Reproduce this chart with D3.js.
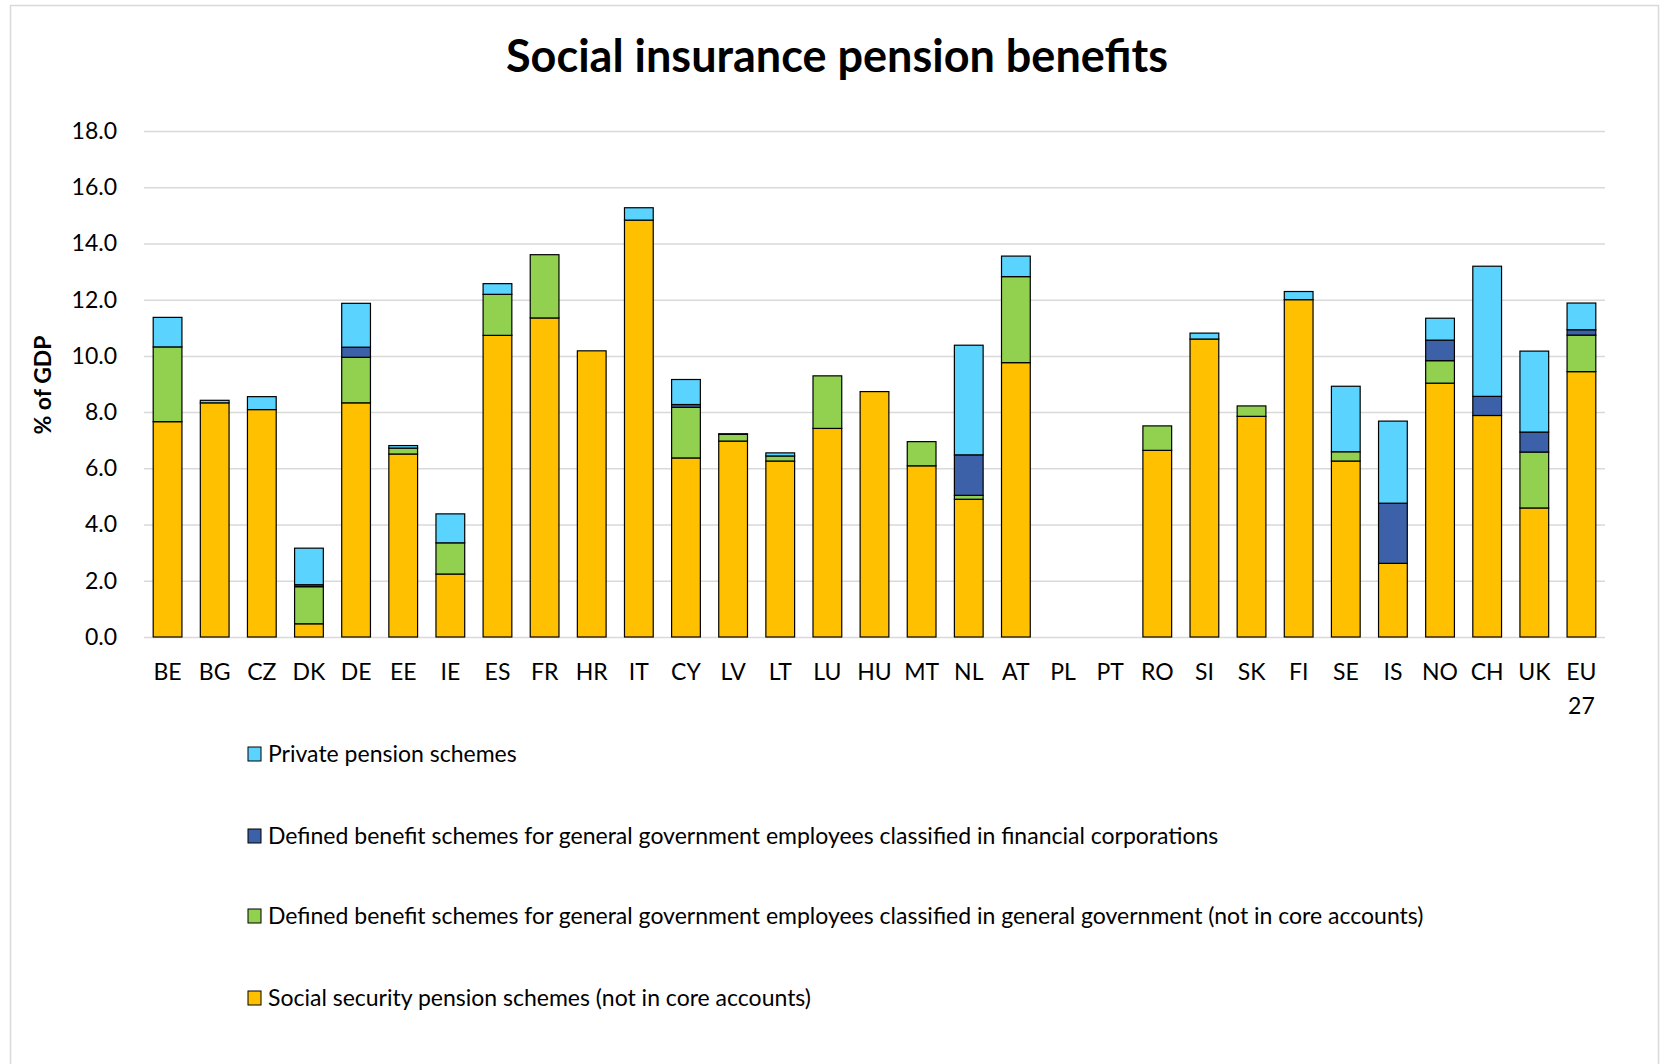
<!DOCTYPE html>
<html>
<head>
<meta charset="utf-8">
<script src="https://cdnjs.cloudflare.com/ajax/libs/d3/7.8.5/d3.min.js"></script>
<style>
  body { margin: 0; background: #fff; }
  svg { display: block; font-family: Lato, "Open Sans", sans-serif; }
</style>
</head>
<body>
<div id="chart"></div>
<script>
// categories (EU 27 is wrapped on two lines like the original)
var countries = ["BE","BG","CZ","DK","DE","EE","IE","ES","FR","HR","IT","CY","LV","LT","LU","HU","MT","NL","AT","PL","PT","RO","SI","SK","FI","SE","IS","NO","CH","UK","EU 27"];

// series values, % of GDP
var socialSecurity = [7.66,8.33,8.09,0.47,8.33,6.51,2.24,10.73,11.35,10.18,14.83,6.37,6.97,6.26,7.42,8.73,6.09,4.90,9.76,0,0,6.64,10.60,7.85,12.00,6.26,2.62,9.03,7.88,4.59,9.44];
var dbGeneralGov  = [2.66,0,0,1.32,1.62,0.21,1.11,1.46,2.25,0,0,1.80,0.24,0.18,1.87,0,0.86,0.14,3.06,0,0,0.87,0,0.37,0,0.33,0,0.80,0,1.99,1.30];
var dbFinancial   = [0,0,0,0.07,0.36,0,0,0,0,0,0,0.10,0,0,0,0,0,1.44,0,0,0,0,0,0,0,0,2.14,0.73,0.68,0.71,0.19];
var privateSchemes= [1.05,0.09,0.46,1.30,1.56,0.09,1.03,0.38,0,0,0.44,0.89,0.02,0.11,0,0,0,3.90,0.73,0,0,0,0.21,0,0.29,2.33,2.92,0.78,4.63,2.88,0.95];

var seriesKeys  = ["ss","gg","fc","pp"];
var seriesNames = ["Social security pension schemes (not in core accounts)",
                   "Defined benefit schemes for general government employees classified in general government (not in core accounts)",
                   "Defined benefit schemes for general government employees classified in financial corporations",
                   "Private pension schemes"];
var seriesColors = ["#FFC000","#92D050","#3C61A8","#5BD3FF"];
var yTicks = [0,2,4,6,8,10,12,14,16,18];

var rows = countries.map(function (c, i) {
    return { country: c, ss: socialSecurity[i], gg: dbGeneralGov[i], fc: dbFinancial[i], pp: privateSchemes[i] };
});

var W = 1667, H = 1064;
var margin = { left: 144, top: 131, right: 62, bottom: 427 };
var width = W - margin.left - margin.right,
    height = H - margin.top - margin.bottom;

var svg = d3.select("#chart").append("svg")
    .attr("width", W)
    .attr("height", H);

// outer frame
svg.append("rect")
    .attr("x", 10.5).attr("y", 5.5)
    .attr("width", 1648).attr("height", 1070)
    .attr("fill", "none")
    .attr("stroke", "#d9d9d9")
    .attr("stroke-width", 1.5);

svg.append("text")
    .text("Social insurance pension benefits")
    .attr("x", 837).attr("y", 72)
    .attr("text-anchor", "middle")
    .attr("font-size", "45px")
    .attr("font-weight", "bold")
    .attr("fill", "#000");

var chart = svg.append("g")
    .attr("transform", "translate(" + margin.left + "," + margin.top + ")");

var x = d3.scaleBand()
    .domain(countries)
    .range([0, width])
    .paddingInner(0.39)
    .paddingOuter(0.195);

var y = d3.scaleLinear()
    .domain([0, 18])
    .range([height, 0]);

// y axis + gridlines
var yAxis = chart.append("g")
    .call(d3.axisLeft(y).tickValues(yTicks).tickSize(-width).tickPadding(27)
        .tickFormat(d3.format(".1f")));
yAxis.select(".domain").remove();
yAxis.selectAll("line").attr("stroke", "#d9d9d9").attr("stroke-width", 1.5);
yAxis.selectAll("text").attr("font-size", "23px").attr("fill", "#000")
    .attr("font-family", "Lato, sans-serif");

// y title
chart.append("text")
    .text("% of GDP")
    .attr("transform", "translate(" + (43 - margin.left) + "," + (385 - margin.top) + ") rotate(-90)")
    .attr("text-anchor", "middle")
    .attr("dy", "0.35em")
    .attr("font-size", "23px")
    .attr("font-weight", "bold");

// x axis
var xAxis = chart.append("g")
    .attr("transform", "translate(0," + height + ")")
    .call(d3.axisBottom(x).tickSize(0).tickPadding(27));
xAxis.select(".domain").remove();
xAxis.selectAll("text").attr("font-size", "23px").attr("fill", "#000")
    .attr("font-family", "Lato, sans-serif")
    .each(function (d) {
        var parts = d.split(" ");
        if (parts.length > 1) {
            var t = d3.select(this).text(null);
            parts.forEach(function (p, i) {
                t.append("tspan").attr("x", 0).attr("dy", i === 0 ? "0.71em" : "1.45em").text(p);
            });
            t.attr("dy", null);
        }
    });

// stacked bars
var stacked = d3.stack().keys(seriesKeys)(rows);

var layer = chart.selectAll(".layer")
    .data(stacked)
    .enter()
    .append("g")
    .attr("class", "layer")
    .attr("fill", function (d, i) { return seriesColors[i]; });

layer.selectAll("rect")
    .data(function (d) { return d.filter(function (s) { return s[1] - s[0] > 0; }); })
    .enter()
    .append("rect")
    .attr("x", function (d) { return x(d.data.country); })
    .attr("y", function (d) { return y(d[1]); })
    .attr("width", x.bandwidth())
    .attr("height", function (d) { return y(d[0]) - y(d[1]); })
    .attr("stroke", "#000")
    .attr("stroke-width", 1.2);

// legend (top to bottom: private, financial, general gov, social security)
var legendY = [754, 836, 916, 998];
var legend = svg.selectAll(".legend")
    .data([3, 2, 1, 0])
    .enter()
    .append("g")
    .attr("class", "legend")
    .attr("transform", function (d, i) { return "translate(248," + legendY[i] + ")"; });

legend.append("rect")
    .attr("x", 0).attr("y", -7)
    .attr("width", 13).attr("height", 14)
    .attr("fill", function (d) { return seriesColors[d]; })
    .attr("stroke", "#000")
    .attr("stroke-width", 1);

legend.append("text")
    .text(function (d) { return seriesNames[d]; })
    .attr("x", 20)
    .attr("dy", "0.35em")
    .attr("font-size", "23px")
    .attr("fill", "#000");
</script>
</body>
</html>
